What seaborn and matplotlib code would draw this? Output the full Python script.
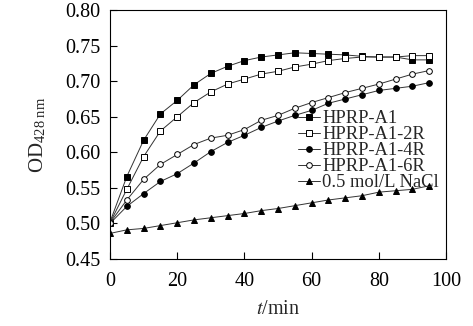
import numpy as np
import pandas as pd
import matplotlib
matplotlib.use("Agg")
import matplotlib.pyplot as plt
import seaborn as sns

# Sampling times (min)
t = [0, 5, 10, 15, 20, 25, 30, 35, 40, 45, 50, 55, 60, 65, 70, 75, 80, 85, 90, 95]

# OD at 428 nm for each sample
od_a1 = [0.502, 0.566, 0.617, 0.654, 0.673, 0.695, 0.711, 0.721, 0.729, 0.734, 0.737,
         0.740, 0.739, 0.738, 0.737, 0.735, 0.734, 0.734, 0.730, 0.730]
od_a1_2r = [0.501, 0.548, 0.594, 0.630, 0.650, 0.670, 0.685, 0.696, 0.703, 0.710, 0.714,
            0.720, 0.724, 0.729, 0.732, 0.734, 0.734, 0.734, 0.736, 0.736]
od_a1_4r = [0.500, 0.524, 0.542, 0.559, 0.570, 0.585, 0.601, 0.614, 0.624, 0.635, 0.644,
            0.652, 0.659, 0.669, 0.675, 0.681, 0.687, 0.690, 0.693, 0.698]
od_a1_6r = [0.501, 0.533, 0.562, 0.583, 0.597, 0.611, 0.620, 0.624, 0.632, 0.645, 0.652,
            0.662, 0.670, 0.677, 0.684, 0.690, 0.696, 0.703, 0.710, 0.715]
od_nacl = [0.486, 0.491, 0.493, 0.497, 0.501, 0.505, 0.508, 0.511, 0.514, 0.518, 0.521,
           0.525, 0.529, 0.533, 0.536, 0.539, 0.544, 0.546, 0.548, 0.553]

series_names = ["HPRP-A1", "HPRP-A1-2R", "HPRP-A1-4R", "HPRP-A1-6R", "0.5 mol/L NaCl"]
series_values = [od_a1, od_a1_2r, od_a1_4r, od_a1_6r, od_nacl]

x_ticks = [0, 20, 40, 60, 80, 100]
y_ticks = [0.45, 0.50, 0.55, 0.60, 0.65, 0.70, 0.75, 0.80]

df = pd.concat(
    [pd.DataFrame({"t": t, "od": v, "series": n}) for n, v in zip(series_names, series_values)],
    ignore_index=True,
)

sns.set_theme(style="ticks")
plt.rcParams["font.family"] = ["Liberation Serif", "DejaVu Serif"]
plt.rcParams["mathtext.fontset"] = "stix"

styles = {
    "HPRP-A1": dict(marker="s", markerfacecolor="black", markersize=3.7),
    "HPRP-A1-2R": dict(marker="s", markerfacecolor="white", markersize=3.7),
    "HPRP-A1-4R": dict(marker="o", markerfacecolor="black", markersize=4.1),
    "HPRP-A1-6R": dict(marker="o", markerfacecolor="white", markersize=4.1),
    "0.5 mol/L NaCl": dict(marker="^", markerfacecolor="black", markersize=4.4),
}

fig = plt.figure(figsize=(4.73, 3.26), dpi=100)
ax = fig.add_axes([0.2326, 0.2055, 0.7104, 0.7635])

for name in series_names:
    sub = df[df["series"] == name]
    sns.lineplot(
        data=sub, x="t", y="od", ax=ax, label=name,
        color="#333333", linewidth=0.7,
        markeredgecolor="black", markeredgewidth=0.7,
        **styles[name],
    )

ax.set_xlim(0, 100)
ax.set_ylim(0.45, 0.80)
ax.set_xticks(x_ticks)
ax.set_yticks(y_ticks)
ax.set_xticklabels([str(v) for v in x_ticks])
ax.set_yticklabels([f"{v:.2f}" for v in y_ticks])
ax.tick_params(axis="both", direction="in", length=5, width=0.8, colors="black",
               labelsize=14.5)
ax.tick_params(axis="x", pad=9)
ax.tick_params(axis="y", pad=7)
for sp in ax.spines.values():
    sp.set_visible(True)
    sp.set_color("black")
    sp.set_linewidth(0.8)

ax.set_xlabel(r"$t$/min", fontsize=14.5, labelpad=7)
ax.set_ylabel(r"OD$_{\mathregular{428\ nm}}$", fontsize=15, labelpad=12)

leg = ax.legend(
    loc="upper left", bbox_to_anchor=(298 / 473, 1 - 110 / 326),
    bbox_transform=fig.transFigure, frameon=False, fontsize=13.3,
    handlelength=1.2, handletextpad=0.1, labelspacing=-0.05,
    borderpad=0, borderaxespad=0,
)

fig.savefig("out.png", dpi=100)
